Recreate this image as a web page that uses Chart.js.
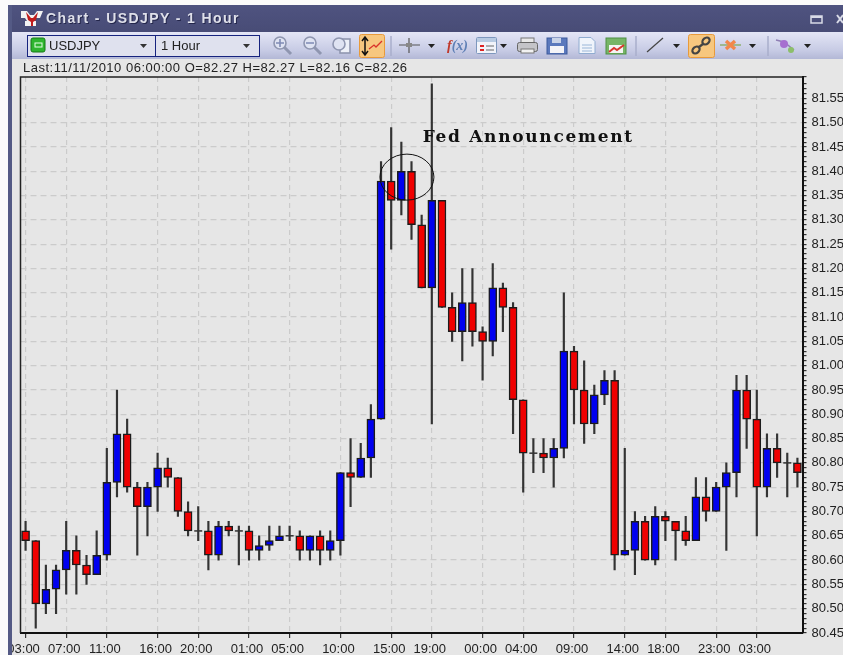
<!DOCTYPE html>
<html lang="en">
  <head>
    <meta charset="utf-8" />
    <title>Chart - USDJPY - 1 Hour</title>
    <script src="https://cdn.jsdelivr.net/npm/chart.js@4"></script>
    <style>
      html, body { margin: 0; padding: 0; width: 843px; height: 655px; overflow: hidden; background: #fbfbfb; }
      body { font-family: "Liberation Sans", Arial, sans-serif; color: #222; }
      .abs { position: absolute; white-space: nowrap; }
      #panel { left: 12px; top: 59px; width: 831px; height: 596px; background: #e6e6e6; }
      #leftframe { left: 8px; top: 5px; width: 4px; height: 650px; background: #545a85; z-index: 5; }
      #leftwhite { left: 0; top: 0; width: 8px; height: 655px; background: #fbfbfb; z-index: 5; }
      #titlebar { left: 8px; top: 5px; width: 835px; height: 27px; background: linear-gradient(#4f5380, #484c76); z-index: 3; }
      #titletext { left: 46px; top: 10px; font-size: 14px; font-weight: bold; letter-spacing: 1.4px; color: #dfe0ea; text-shadow: 1px 1px 0 #23264a; z-index: 6; }
      #toolbar { left: 12px; top: 32px; width: 831px; height: 27px; background: linear-gradient(#e4e6f6, #c6cae4 70%, #b3b8d6); z-index: 3; }
      .combo { top: 35px; height: 20px; border: 1px solid #16237e; background: #dfe1ee; font-size: 13px; line-height: 20px; z-index: 4; }
      #lastline { left: 23px; top: 60px; font-size: 13px; letter-spacing: 0.5px; z-index: 4; }
      #chrome { left: 0; top: 0; z-index: 6; }
      #axis_chart { position: absolute; left: 0; top: 0; z-index: 2; }
    </style>
  </head>
  <body>
    <div class="abs" id="panel"></div>
    <div class="abs" id="leftwhite"></div>
    <div class="abs" id="leftframe"></div>
    <div class="abs" id="titlebar"></div>
    <div class="abs" id="titletext">Chart - USDJPY - 1 Hour</div>
    <div class="abs" id="toolbar"></div>
    <div class="abs combo" style="left: 27px; width: 127px"><span style="margin-left: 21px">USDJPY</span></div>
    <div class="abs combo" style="left: 155px; width: 103px"><span style="margin-left: 5px">1 Hour</span></div>
    <div class="abs" id="lastline">Last:11/11/2010 06:00:00 O=82.27 H=82.27 L=82.16 C=82.26</div>
    <svg class="abs" id="chrome" width="843" height="60" viewBox="0 0 843 60">
      <!-- window icon -->
      <path d="M21 11h6l3 4h4l3-4h6l-3 7h-4l-2 3h2v5H25v-5h2l-2-3h-4z" fill="#f3f3f3" />
      <path d="M26 12l5 6h2l5-6-2 8-3 2v4h-2v-4l-3-2z" fill="#c21d1d" />
      <!-- window buttons -->
      <rect x="811" y="16" width="11" height="7" fill="none" stroke="#d8dae6" stroke-width="1.5" />
      <rect x="811" y="16" width="11" height="2" fill="#d8dae6" />
      <path d="M837 15l6 8M843 15l-6 8" stroke="#d8dae6" stroke-width="2" />
      <!-- combo parts -->
      <rect x="31" y="38" width="14" height="14" rx="2" fill="#2fb52f" stroke="#167a16" />
      <rect x="35" y="43" width="7" height="4" fill="none" stroke="#e6ffe6" />
      <path d="M140 44h7l-3.5 4zM243 44h7l-3.5 4z" fill="#333" />
      <!-- zoom -->
      <g fill="#dfe3f2" stroke="#8f96b0" stroke-width="1.6">
        <circle cx="280" cy="43" r="6" /><path d="M284 47l7 7" stroke-width="3" />
        <circle cx="310" cy="43" r="6" /><path d="M314 47l7 7" stroke-width="3" />
        <rect x="340" y="39" width="10" height="14" fill="#edf0f8" /><circle cx="339" cy="44" r="6" />
      </g>
      <path d="M276 43h8M280 39v8M306 43h8" stroke="#7f8bb5" stroke-width="1.6" />
      <!-- active button -->
      <rect x="359.5" y="34.5" width="25" height="23" rx="2" fill="#f7c77f" stroke="#e89a3a" />
      <path d="M365 38v16M362 41l3-4 3 4M362 51l3 4 3-4" fill="none" stroke="#111" stroke-width="1.5" />
      <path d="M369 49l5-4 2 2 6-6" fill="none" stroke="#d9322a" stroke-width="1.3" />
      <path d="M391 36v20M636 36v20M768 36v20" stroke="#a9aecb" stroke-width="1.5" />
      <!-- crosshair -->
      <path d="M399 45h21M409 38v15" stroke="#555" stroke-width="1.2" />
      <rect x="406" y="43" width="6" height="4" fill="#888" />
      <!-- drop arrows -->
      <path d="M428 44h7l-3.5 4zM500 44h7l-3.5 4zM673 44h7l-3.5 4zM749 44h7l-3.5 4zM804 44h7l-3.5 4z" fill="#222" />
      <!-- f(x) -->
      <text x="447" y="50" font-family="Liberation Serif" font-style="italic" font-weight="bold" font-size="14" fill="#c0392b">f<tspan fill="#5e7fb5">(x)</tspan></text>
      <!-- properties -->
      <rect x="476.5" y="37.5" width="20" height="16" rx="1" fill="#f1f3fa" stroke="#7d97bd" />
      <rect x="477" y="38" width="19" height="4" fill="#b8cbe3" />
      <path d="M480 46h4M480 50h4" stroke="#d22" stroke-width="2" /><path d="M486 46h8M486 50h8" stroke="#666" />
      <!-- printer -->
      <rect x="521" y="38" width="13" height="5" fill="#e8e8e8" stroke="#777" />
      <rect x="517.5" y="42.5" width="20" height="9" rx="2" fill="#c4c4c8" stroke="#666" />
      <rect x="521" y="49" width="13" height="4" fill="#f2f2f2" stroke="#777" />
      <!-- disks -->
      <rect x="547" y="38" width="20" height="16" fill="#5b79bd" stroke="#3d5a9b" />
      <rect x="550" y="46" width="14" height="7" fill="#f4f4f8" /><rect x="552" y="38" width="9" height="5" fill="#c9d3e8" />
      <path d="M579 37.5h12l4 4v12h-16z" fill="#f0f4fb" stroke="#90acd0" />
      <path d="M582 45h10M582 48h10M582 51h10" stroke="#9ab6d8" />
      <rect x="606" y="38" width="20" height="16" fill="#76b566" stroke="#4f9044" />
      <rect x="609" y="45" width="14" height="8" fill="#f4f4f4" /><path d="M609 52l5-4 3 2 7-5" fill="none" stroke="#d8362e" stroke-width="2" />
      <!-- line tool -->
      <path d="M647 52l16-14" stroke="#444" stroke-width="1.2" />
      <!-- chain button -->
      <rect x="688.5" y="34.5" width="26" height="23" rx="2" fill="#f7c77f" stroke="#e89a3a" />
      <g fill="none" stroke="#444" stroke-width="2.2"><ellipse cx="696" cy="50" rx="4" ry="3" transform="rotate(-40 696 50)" /><ellipse cx="706" cy="41" rx="4" ry="3" transform="rotate(-40 706 41)" /><path d="M699 47l4-3" /></g>
      <!-- delete tool -->
      <path d="M720 45h21" stroke="#7fa650" stroke-width="1.2" />
      <path d="M726 41l9 8M735 41l-9 8" stroke="#f2874a" stroke-width="3.5" />
      <!-- wizard tool -->
      <path d="M776 40l8 2 10 8" fill="none" stroke="#8f7fb5" stroke-width="1.5" />
      <circle cx="784" cy="44" r="4" fill="#a66fd0" /><circle cx="791" cy="50" r="3" fill="#8cbf6a" />
    </svg>
    <canvas id="axis_chart" width="843" height="655" style="width: 843px; height: 655px"></canvas>
    <script>
      const hours = [
        "03:00","04:00","05:00","06:00","07:00","08:00","09:00","10:00","11:00","12:00","13:00","14:00","15:00",
        "16:00","17:00","18:00","19:00","20:00","21:00","22:00","23:00","00:00","01:00","02:00","03:00","04:00",
        "05:00","06:00","07:00","08:00","09:00","10:00","11:00","12:00","13:00","14:00","15:00","16:00","17:00",
        "18:00","19:00","20:00","21:00","22:00","23:00","00:00","01:00","02:00","03:00","04:00","05:00","06:00",
        "07:00","08:00","09:00","10:00","11:00","12:00","13:00","14:00","15:00","16:00","17:00","18:00","19:00",
        "20:00","21:00","22:00","23:00","00:00","01:00","02:00","03:00","04:00","05:00","06:00","07:00"
      ];
      // which categories get a label and a vertical grid line
      const labelled = [0, 4, 8, 13, 17, 22, 26, 31, 36, 40, 45, 49, 54, 59, 63, 68, 72];

      const opens = [
        80.66, 80.64, 80.51, 80.54, 80.58, 80.62, 80.59, 80.57, 80.61, 80.76, 80.86, 80.75, 80.71, 80.75, 80.79, 80.77,
        80.70, 80.66, 80.66, 80.61, 80.67, 80.66, 80.66, 80.62, 80.63, 80.64, 80.65, 80.65, 80.62, 80.65, 80.62, 80.64,
        80.78, 80.77, 80.81, 80.89, 81.38, 81.34, 81.40, 81.29, 81.16, 81.34, 81.12, 81.07, 81.13, 81.07, 81.05, 81.16,
        81.12, 80.93, 80.82, 80.82, 80.81, 80.83, 81.03, 80.95, 80.88, 80.94, 80.97, 80.61, 80.62, 80.68, 80.60, 80.69,
        80.68, 80.66, 80.64, 80.73, 80.70, 80.75, 80.78, 80.95, 80.89, 80.75, 80.83, 80.80, 80.80
      ];
      const closes = [
        80.64, 80.51, 80.54, 80.58, 80.62, 80.59, 80.57, 80.61, 80.76, 80.86, 80.75, 80.71, 80.75, 80.79, 80.77, 80.70,
        80.66, 80.66, 80.61, 80.67, 80.66, 80.66, 80.62, 80.63, 80.64, 80.65, 80.65, 80.62, 80.65, 80.62, 80.64, 80.78,
        80.77, 80.81, 80.89, 81.38, 81.34, 81.40, 81.29, 81.16, 81.34, 81.12, 81.07, 81.13, 81.07, 81.05, 81.16, 81.12,
        80.93, 80.82, 80.82, 80.81, 80.83, 81.03, 80.95, 80.88, 80.94, 80.97, 80.61, 80.62, 80.68, 80.60, 80.69, 80.68,
        80.66, 80.64, 80.73, 80.70, 80.75, 80.78, 80.95, 80.89, 80.75, 80.83, 80.80, 80.80, 80.78
      ];
      const highs = [
        80.68, 80.64, 80.59, 80.59, 80.68, 80.65, 80.61, 80.66, 80.83, 80.95, 80.89, 80.76, 80.76, 80.82, 80.81, 80.77,
        80.72, 80.71, 80.68, 80.68, 80.68, 80.67, 80.67, 80.65, 80.67, 80.67, 80.67, 80.66, 80.65, 80.66, 80.66, 80.78,
        80.85, 80.84, 80.92, 81.42, 81.49, 81.46, 81.42, 81.31, 81.58, 81.34, 81.15, 81.20, 81.20, 81.08, 81.21, 81.17,
        81.13, 80.93, 80.85, 80.85, 80.85, 81.15, 81.04, 81.01, 80.96, 80.99, 80.99, 80.83, 80.70, 80.69, 80.71, 80.70,
        80.68, 80.69, 80.77, 80.77, 80.76, 80.80, 80.98, 80.98, 80.95, 80.86, 80.86, 80.82, 80.81
      ];
      const lows = [
        80.62, 80.46, 80.49, 80.49, 80.53, 80.53, 80.55, 80.57, 80.60, 80.73, 80.74, 80.61, 80.65, 80.70, 80.75, 80.69,
        80.65, 80.64, 80.58, 80.60, 80.65, 80.59, 80.60, 80.60, 80.62, 80.64, 80.64, 80.60, 80.60, 80.59, 80.60, 80.61,
        80.71, 80.77, 80.77, 80.89, 81.24, 81.31, 81.26, 81.16, 80.88, 81.12, 81.05, 81.01, 81.04, 80.97, 81.02, 81.07,
        80.86, 80.74, 80.78, 80.78, 80.75, 80.81, 80.88, 80.84, 80.86, 80.92, 80.58, 80.61, 80.57, 80.60, 80.59, 80.64,
        80.60, 80.63, 80.64, 80.68, 80.70, 80.62, 80.73, 80.83, 80.65, 80.73, 80.77, 80.73, 80.75
      ];

      const bodyColors = opens.map((o, i) => (closes[i] > o ? "#0000f0" : "#f00000"));
      const dojis = opens.map((o, i) => (closes[i] === o ? o : null));

      // frame on all four sides plus the circle and note of the event
      const overlay = {
        id: "overlay",
        afterDatasetsDraw(chart) {
          const { ctx, chartArea: a, scales } = chart;
          ctx.save();
          ctx.strokeStyle = "#222";
          ctx.lineWidth = 1.5;
          ctx.beginPath();
          ctx.moveTo(a.left, a.bottom);
          ctx.lineTo(a.left, a.top);
          ctx.lineTo(a.right, a.top);
          ctx.stroke();

          ctx.lineWidth = 1;
          ctx.strokeStyle = "#111";
          ctx.beginPath();
          ctx.ellipse(scales.x.getPixelForValue(37.55), scales.y.getPixelForValue(81.388), 27, 23, 0, 0, 2 * Math.PI);
          ctx.stroke();

          ctx.fillStyle = "#111";
          ctx.font = "bold 17px 'DejaVu Serif'";
          ctx.letterSpacing = "1.7px";
          ctx.textBaseline = "middle";
          ctx.fillText("Fed Announcement", scales.x.getPixelForValue(39.1), scales.y.getPixelForValue(81.47));
          ctx.restore();
        },
      };

      const fixedSize = (size) => (scale) => {
        if (scale.isHorizontal()) scale.height = size;
        else scale.width = size;
      };

      const isFive = (v) => Math.abs(v * 100 - Math.round(v * 100)) < 1e-6 && Math.round(v * 100) % 5 === 0;

      new Chart(document.getElementById("axis_chart"), {
        type: "bar",
        data: {
          labels: hours,
          datasets: [
            {
              // bodies
              data: opens.map((o, i) => [o, closes[i]]),
              backgroundColor: bodyColors,
              borderColor: "#1c1c1c",
              borderWidth: 1.5,
              borderSkipped: false,
              barThickness: 8,
              grouped: false,
              order: 1,
            },
            {
              // wicks
              data: lows.map((l, i) => [l, highs[i]]),
              backgroundColor: "#333333",
              borderWidth: 0,
              barThickness: 1.5,
              grouped: false,
              order: 2,
            },
            {
              // open == close, no body to draw
              type: "line",
              data: dojis,
              showLine: false,
              pointStyle: "line",
              pointRadius: 4,
              pointBorderWidth: 1.5,
              borderColor: "#333333",
              order: 0,
            },
          ],
        },
        plugins: [overlay],
        options: {
          responsive: false,
          animation: false,
          events: [],
          layout: { padding: { left: 20.5, top: 77, right: 0, bottom: 0 } },
          plugins: { legend: { display: false }, tooltip: { enabled: false } },
          scales: {
            x: {
              offset: true,
              afterFit: fixedSize(22),
              border: { color: "#111", width: 2, dash: [5, 4] },
              grid: {
                offset: false,
                lineWidth: 1.2,
                tickLength: 5,
                color: (c) => (labelled.includes(c.index) ? "#cbcbcb" : "transparent"),
                tickColor: (c) => (labelled.includes(c.index) ? "#333" : "transparent"),
                tickBorderDash: [],
              },
              ticks: {
                autoSkip: false,
                maxRotation: 0,
                padding: 4,
                labelOffset: -2,
                color: "#222",
                font: { family: "'Liberation Sans'", size: 13 },
                callback: (v, i) => (labelled.includes(i) ? hours[i] : ""),
              },
            },
            y: {
              position: "right",
              min: 80.45,
              max: 81.594,
              afterFit: fixedSize(40.5),
              border: { color: "#111", width: 2, dash: [6, 4] },
              grid: {
                lineWidth: 1.2,
                tickLength: 4,
                color: (c) => (c.tick && isFive(c.tick.value) && c.tick.value > 80.46 ? "#cbcbcb" : "transparent"),
                tickColor: "#333",
                tickBorderDash: [],
              },
              ticks: {
                stepSize: 0.01,
                autoSkip: false,
                padding: 5,
                color: "#222",
                font: { family: "'Liberation Sans'", size: 13 },
                callback: (v) => (isFive(v) ? v.toFixed(2) : ""),
              },
            },
          },
        },
      });
    </script>
  </body>
</html>
